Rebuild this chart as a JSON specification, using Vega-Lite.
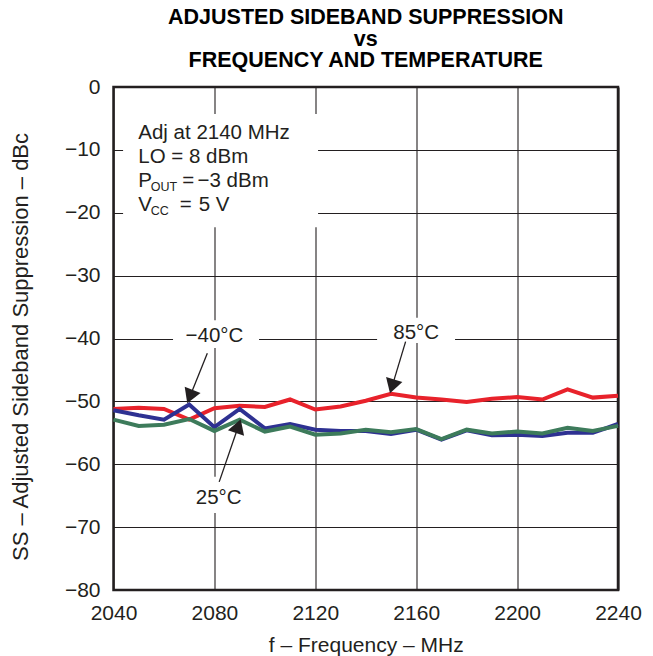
{
  "$schema": "https://vega.github.io/schema/vega-lite/v6.json",
  "autosize": {"type": "none"},
  "padding": {"left": 113.5, "top": 87, "right": 35, "bottom": 66},
  "width": 504.5,
  "height": 503,
  "background": "white",
  "title": {
    "text": ["ADJUSTED SIDEBAND SUPPRESSION", "vs", "FREQUENCY AND TEMPERATURE"],
    "font": "Liberation Sans",
    "fontSize": 21.5,
    "fontWeight": "bold",
    "color": "#000000",
    "anchor": "middle",
    "frame": "group",
    "offset": 4,
    "lineHeight": 21.7
  },
  "datasets": {
    "series": [
      {"f": 2040, "ss": -51.2, "temp": "85°C"},
      {"f": 2050, "ss": -51.0, "temp": "85°C"},
      {"f": 2060, "ss": -51.2, "temp": "85°C"},
      {"f": 2070, "ss": -52.9, "temp": "85°C"},
      {"f": 2080, "ss": -51.1, "temp": "85°C"},
      {"f": 2090, "ss": -50.7, "temp": "85°C"},
      {"f": 2100, "ss": -50.9, "temp": "85°C"},
      {"f": 2110, "ss": -49.7, "temp": "85°C"},
      {"f": 2120, "ss": -51.3, "temp": "85°C"},
      {"f": 2130, "ss": -50.8, "temp": "85°C"},
      {"f": 2140, "ss": -49.9, "temp": "85°C"},
      {"f": 2150, "ss": -48.8, "temp": "85°C"},
      {"f": 2160, "ss": -49.4, "temp": "85°C"},
      {"f": 2170, "ss": -49.7, "temp": "85°C"},
      {"f": 2180, "ss": -50.1, "temp": "85°C"},
      {"f": 2190, "ss": -49.6, "temp": "85°C"},
      {"f": 2200, "ss": -49.3, "temp": "85°C"},
      {"f": 2210, "ss": -49.7, "temp": "85°C"},
      {"f": 2220, "ss": -48.1, "temp": "85°C"},
      {"f": 2230, "ss": -49.4, "temp": "85°C"},
      {"f": 2240, "ss": -49.1, "temp": "85°C"},
      {"f": 2040, "ss": -51.4, "temp": "−40°C"},
      {"f": 2050, "ss": -52.2, "temp": "−40°C"},
      {"f": 2060, "ss": -52.9, "temp": "−40°C"},
      {"f": 2070, "ss": -50.5, "temp": "−40°C"},
      {"f": 2080, "ss": -54.1, "temp": "−40°C"},
      {"f": 2090, "ss": -51.2, "temp": "−40°C"},
      {"f": 2100, "ss": -54.3, "temp": "−40°C"},
      {"f": 2110, "ss": -53.6, "temp": "−40°C"},
      {"f": 2120, "ss": -54.5, "temp": "−40°C"},
      {"f": 2130, "ss": -54.7, "temp": "−40°C"},
      {"f": 2140, "ss": -54.7, "temp": "−40°C"},
      {"f": 2150, "ss": -55.2, "temp": "−40°C"},
      {"f": 2160, "ss": -54.5, "temp": "−40°C"},
      {"f": 2170, "ss": -56.1, "temp": "−40°C"},
      {"f": 2180, "ss": -54.6, "temp": "−40°C"},
      {"f": 2190, "ss": -55.4, "temp": "−40°C"},
      {"f": 2200, "ss": -55.3, "temp": "−40°C"},
      {"f": 2210, "ss": -55.5, "temp": "−40°C"},
      {"f": 2220, "ss": -55.0, "temp": "−40°C"},
      {"f": 2230, "ss": -55.0, "temp": "−40°C"},
      {"f": 2240, "ss": -53.6, "temp": "−40°C"},
      {"f": 2040, "ss": -52.9, "temp": "25°C"},
      {"f": 2050, "ss": -53.9, "temp": "25°C"},
      {"f": 2060, "ss": -53.7, "temp": "25°C"},
      {"f": 2070, "ss": -52.8, "temp": "25°C"},
      {"f": 2080, "ss": -54.7, "temp": "25°C"},
      {"f": 2090, "ss": -52.9, "temp": "25°C"},
      {"f": 2100, "ss": -54.8, "temp": "25°C"},
      {"f": 2110, "ss": -54.0, "temp": "25°C"},
      {"f": 2120, "ss": -55.3, "temp": "25°C"},
      {"f": 2130, "ss": -55.1, "temp": "25°C"},
      {"f": 2140, "ss": -54.5, "temp": "25°C"},
      {"f": 2150, "ss": -54.9, "temp": "25°C"},
      {"f": 2160, "ss": -54.4, "temp": "25°C"},
      {"f": 2170, "ss": -56.0, "temp": "25°C"},
      {"f": 2180, "ss": -54.5, "temp": "25°C"},
      {"f": 2190, "ss": -55.1, "temp": "25°C"},
      {"f": 2200, "ss": -54.8, "temp": "25°C"},
      {"f": 2210, "ss": -55.1, "temp": "25°C"},
      {"f": 2220, "ss": -54.2, "temp": "25°C"},
      {"f": 2230, "ss": -54.7, "temp": "25°C"},
      {"f": 2240, "ss": -53.9, "temp": "25°C"}
    ],
    "boxes": [
      {"f": 2043.8, "f2": 2121.1, "ss": -4.3, "ss2": -22.3},
      {"f": 2063.6, "f2": 2097.7, "ss": -37.1, "ss2": -41.5},
      {"f": 2144.5, "f2": 2175.4, "ss": -36.7, "ss2": -40.7},
      {"f": 2071.5, "f2": 2092.1, "ss": -62.0, "ss2": -67.75}
    ],
    "arrows": [
      {"f": 2077.2, "ss": -42.35, "f2": 2070.3, "ss2": -49.24},
      {"f": 2155.8, "ss": -40.5, "f2": 2150.45, "ss2": -47.62},
      {"f": 2081.9, "ss": -62.8, "f2": 2089.5, "ss2": -53.95}
    ],
    "templabels": [
      {"f": 2080, "ss": -39.6, "label": "−40°C"},
      {"f": 2160, "ss": -39.2, "label": "85°C"},
      {"f": 2081.7, "ss": -65.3, "label": "25°C"}
    ],
    "notes": [
      {"f": 2049.83, "ss": -8.32, "label": "Adj at 2140 MHz"},
      {"f": 2049.83, "ss": -12.14, "label": "LO = 8 dBm"},
      {"f": 2049.83, "ss": -15.95, "label": "P"},
      {"f": 2067.3, "ss": -15.95, "label": "="},
      {"f": 2073.3, "ss": -15.95, "label": "−3 dBm"},
      {"f": 2049.83, "ss": -19.72, "label": "V"},
      {"f": 2066.3, "ss": -19.72, "label": "="},
      {"f": 2073.8, "ss": -19.72, "label": "5 V"}
    ],
    "subs": [
      {"f": 2054.75, "ss": -16.54, "label": "OUT"},
      {"f": 2054.75, "ss": -20.36, "label": "CC"}
    ]
  },
  "encoding": {
    "x": {
      "field": "f",
      "type": "quantitative",
      "scale": {"domain": [2040, 2240], "nice": false, "zero": false},
      "axis": {
        "title": "f – Frequency – MHz",
        "values": [2040, 2080, 2120, 2160, 2200, 2240],
        "format": "d",
        "labelPadding": 12.7,
        "labelFlush": false,
        "labelOverlap": false,
        "titleY": 55,
        "titleBaseline": "middle"
      }
    },
    "y": {
      "field": "ss",
      "type": "quantitative",
      "scale": {"domain": [-80, 0], "nice": false, "zero": false},
      "axis": {
        "title": "SS – Adjusted Sideband Suppression – dBc",
        "values": [0, -10, -20, -30, -40, -50, -60, -70, -80],
        "format": "d",
        "labelPadding": 13.5,
        "labelFlush": false,
        "labelOverlap": false,
        "titleX": -93.5,
        "titleY": 259.5,
        "titleAngle": -90,
        "titleAlign": "center",
        "titleBaseline": "middle",
        "titleFontSize": 22
      }
    }
  },
  "layer": [
    {
      "data": {"name": "boxes"},
      "mark": {"type": "rect", "fill": "white", "strokeWidth": 0},
      "encoding": {
        "x2": {"field": "f2"},
        "y2": {"field": "ss2"}
      }
    },
    {
      "data": {"name": "series"},
      "mark": {"type": "line", "strokeWidth": 4, "strokeJoin": "miter", "strokeCap": "butt"},
      "encoding": {
        "color": {
          "field": "temp",
          "type": "nominal",
          "scale": {"domain": ["85°C", "−40°C", "25°C"], "range": ["#e8222b", "#2e3192", "#3d7b5b"]},
          "legend": null
        }
      }
    },
    {
      "data": {"name": "arrows"},
      "mark": {"type": "rule", "color": "#231f20", "strokeWidth": 1.3},
      "encoding": {
        "x2": {"field": "f2"},
        "y2": {"field": "ss2"}
      }
    },
    {
      "data": {"values": [{"f": 2070.3, "ss": -49.24}]},
      "mark": {"type": "point", "shape": "M0,-0.85L1,0.85L-1,0.85Z", "size": 291, "angle": 201.8, "filled": true, "color": "#231f20", "opacity": 1, "strokeWidth": 0}
    },
    {
      "data": {"values": [{"f": 2150.45, "ss": -47.62}]},
      "mark": {"type": "point", "shape": "M0,-0.85L1,0.85L-1,0.85Z", "size": 291, "angle": 196.9, "filled": true, "color": "#231f20", "opacity": 1, "strokeWidth": 0}
    },
    {
      "data": {"values": [{"f": 2089.5, "ss": -53.95}]},
      "mark": {"type": "point", "shape": "M0,-0.85L1,0.85L-1,0.85Z", "size": 291, "angle": 18.9, "filled": true, "color": "#231f20", "opacity": 1, "strokeWidth": 0}
    },
    {
      "data": {"name": "templabels"},
      "mark": {"type": "text", "font": "Liberation Sans", "fontSize": 20.5, "color": "#231f20", "align": "center", "baseline": "middle"},
      "encoding": {"text": {"field": "label"}}
    },
    {
      "data": {"name": "notes"},
      "mark": {"type": "text", "font": "Liberation Sans", "fontSize": 20.5, "color": "#231f20", "align": "left", "baseline": "alphabetic"},
      "encoding": {"text": {"field": "label"}}
    },
    {
      "data": {"name": "subs"},
      "mark": {"type": "text", "font": "Liberation Sans", "fontSize": 12.5, "color": "#231f20", "align": "left", "baseline": "alphabetic"},
      "encoding": {"text": {"field": "label"}}
    }
  ],
  "config": {
    "view": {"stroke": "#231f20", "strokeWidth": 2.5},
    "axis": {
      "grid": true,
      "gridColor": "#231f20",
      "gridWidth": 1.1,
      "gridOpacity": 1,
      "domain": false,
      "ticks": false,
      "tickSize": 0,
      "labelFont": "Liberation Sans",
      "labelFontSize": 21,
      "labelColor": "#231f20",
      "titleFont": "Liberation Sans",
      "titleFontSize": 21,
      "titleFontWeight": "normal",
      "titleColor": "#231f20"
    }
  }
}
